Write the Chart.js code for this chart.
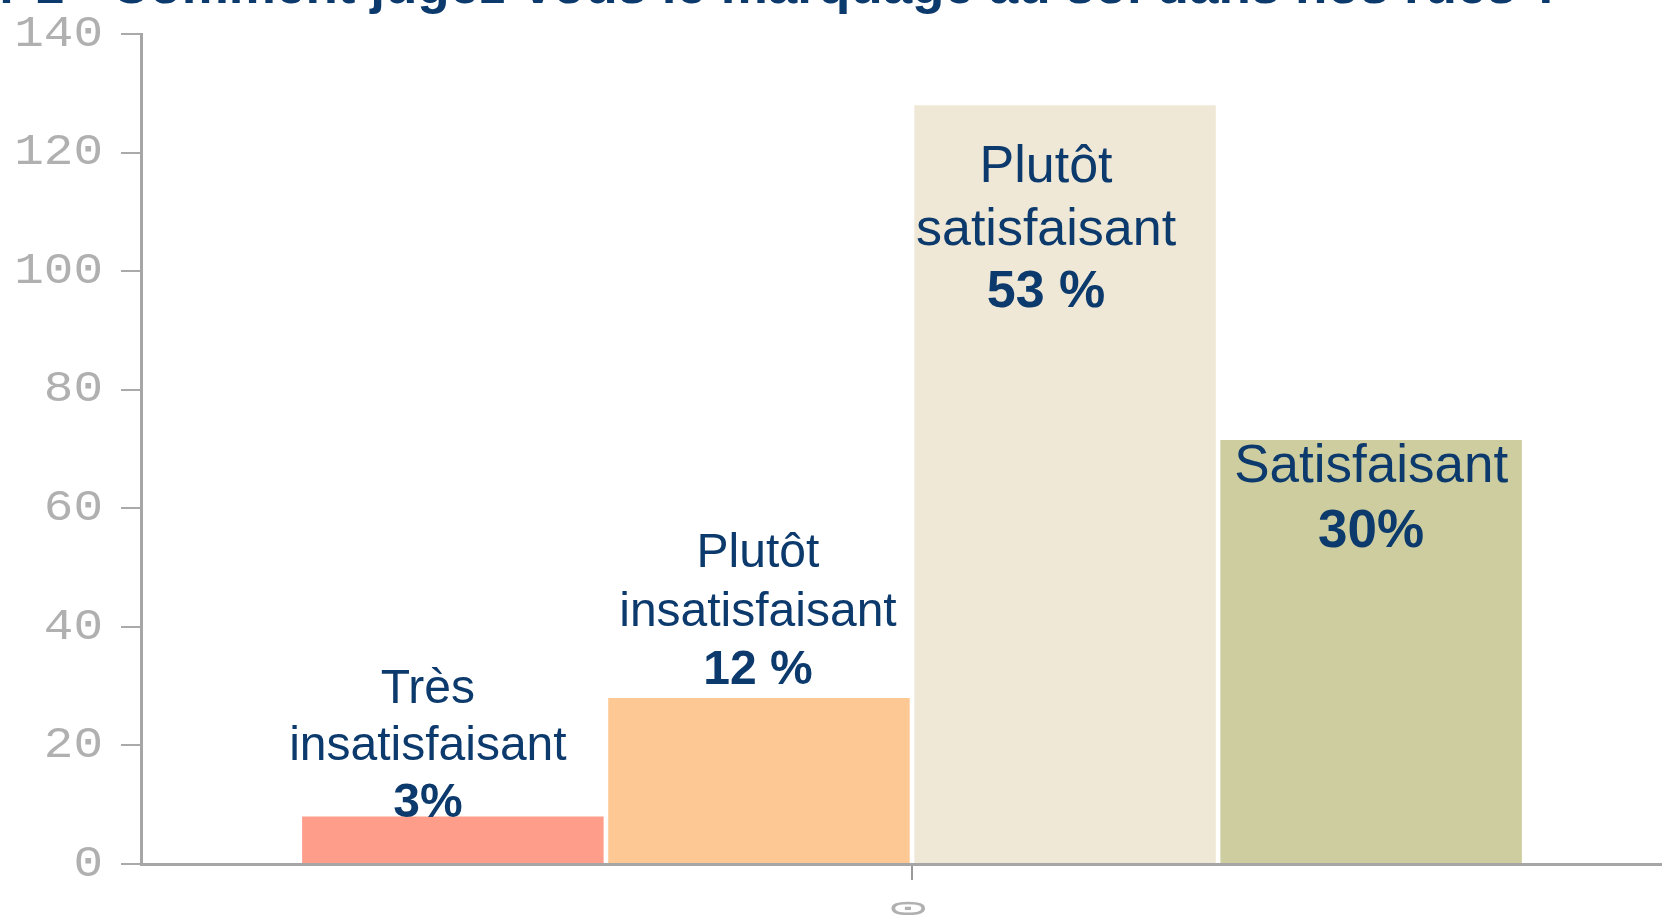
<!DOCTYPE html>
<html lang="fr">
<head>
<meta charset="utf-8">
<title>Marquage au sol</title>
<script src="https://cdn.jsdelivr.net/npm/chart.js@4.4.1/dist/chart.umd.min.js"></script>
<style>
  html, body { margin: 0; padding: 0; background: #fff; overflow: hidden; }
  #wrap { width: 1700px; height: 920px; }
</style>
</head>
<body>
<div id="wrap"><canvas id="chart" width="1700" height="920"></canvas></div>
<script>
/* ---------------- données ---------------- */
const titre = "Question n°1 - Comment jugez-vous le marquage au sol dans nos rues ?";
const categories = ["0"];
const reponses = ["Très insatisfaisant", "Plutôt insatisfaisant", "Plutôt satisfaisant", "Satisfaisant"];
const effectifs = [8, 28, 128, 71.5];
const pourcentages = ["3%", "12 %", "53 %", "30%"];
const lignesEtiquettes = [["Très", "insatisfaisant"], ["Plutôt", "insatisfaisant"], ["Plutôt", "satisfaisant"], ["Satisfaisant"]];
const yTicks = [0, 20, 40, 60, 80, 100, 120, 140];

/* ---------------- styles ---------------- */
const couleurs = ["#fd9d8a", "#fdc894", "#f0e8d6", "#cecda0"];
const bleu = "#0c3a6c";
const gris = "#a6a6a6";
// placement des étiquettes par rapport au haut de chaque barre
const placement = [
  { dx: -25, dy: -114, gap: 57, size: 48 },
  { dx: -1, dy: -131, gap: 58.5, size: 48 },
  { dx: -19, dy: 77, gap: 62.5, size: 52 },
  { dx: 0, dy: 42, gap: 65, size: 53 }
];

const titrePlugin = {
  id: 'titre',
  afterDraw(chart) {
    const ctx = chart.ctx;
    ctx.save();
    ctx.fillStyle = bleu;
    ctx.font = 'bold 53px "Liberation Sans", Arial, sans-serif';
    ctx.textAlign = 'right';
    ctx.textBaseline = 'alphabetic';
    ctx.fillText(titre, 1563, 3);
    ctx.restore();
  }
};

// libellés des graduations, un peu étirés en largeur comme sur l'original
const graduations = {
  id: 'graduations',
  afterDraw(chart) {
    const { ctx, scales: { x, y } } = chart;
    ctx.save();
    ctx.fillStyle = '#b0b0b0';
    ctx.font = '44px "Liberation Mono", monospace';
    ctx.textAlign = 'right';
    ctx.textBaseline = 'middle';
    y.ticks.forEach((t, i) => {
      ctx.save();
      ctx.translate(y.right - 20 - 18, y.getPixelForTick(i));
      ctx.scale(1.12, 1);
      ctx.fillText(String(t.value), 0, 0);
      ctx.restore();
    });
    ctx.font = '28px "Liberation Mono", monospace';
    x.ticks.forEach((t, i) => {
      ctx.save();
      ctx.translate(x.getPixelForTick(i), x.top + 16 + 20);
      ctx.scale(1.8, 1);
      ctx.rotate(-Math.PI / 2);
      ctx.fillText(categories[i], 0, 0);
      ctx.restore();
    });
    ctx.restore();
  }
};

const etiquettes = {
  id: 'etiquettes',
  afterDatasetsDraw(chart) {
    const ctx = chart.ctx;
    ctx.save();
    ctx.fillStyle = bleu;
    ctx.textAlign = 'center';
    ctx.textBaseline = 'alphabetic';
    chart.data.datasets.forEach((ds, i) => {
      const bar = chart.getDatasetMeta(i).data[0];
      const p = placement[i];
      const lignes = lignesEtiquettes[i].concat([pourcentages[i]]);
      lignes.forEach((txt, k) => {
        const gras = k === lignes.length - 1;
        ctx.font = (gras ? 'bold ' : '') + p.size + 'px "Liberation Sans", Arial, sans-serif';
        ctx.fillText(txt, bar.x + p.dx, bar.y + p.dy + k * p.gap);
      });
    });
    ctx.restore();
  }
};

new Chart(document.getElementById('chart'), {
  type: 'bar',
  data: {
    labels: categories,
    datasets: reponses.map((r, i) => ({
      label: r,
      data: [effectifs[i]],
      backgroundColor: couleurs[i],
      borderWidth: 0,
      categoryPercentage: 0.794,
      barPercentage: 0.985
    }))
  },
  options: {
    responsive: false,
    animation: false,
    layout: { padding: { top: 34, right: 17, left: 0, bottom: 0 } },
    plugins: {
      legend: { display: false },
      tooltip: { enabled: false }
    },
    scales: {
      x: {
        offset: true,
        grid: { offset: false, drawOnChartArea: false, tickLength: 16, color: '#9a9a9a', lineWidth: 2 },
        border: { color: gris, width: 3 },
        ticks: { display: false },
        afterFit: s => { s.height = 56; }
      },
      y: {
        min: 0,
        max: 140,
        afterBuildTicks: s => { s.ticks = yTicks.map(v => ({ value: v })); },
        grid: { drawOnChartArea: false, tickLength: 20, color: '#aaaaaa', lineWidth: 2 },
        border: { color: gris, width: 3 },
        ticks: { display: false },
        afterFit: s => { s.width = 141; }
      }
    }
  },
  plugins: [titrePlugin, graduations, etiquettes]
});
</script>
</body>
</html>
